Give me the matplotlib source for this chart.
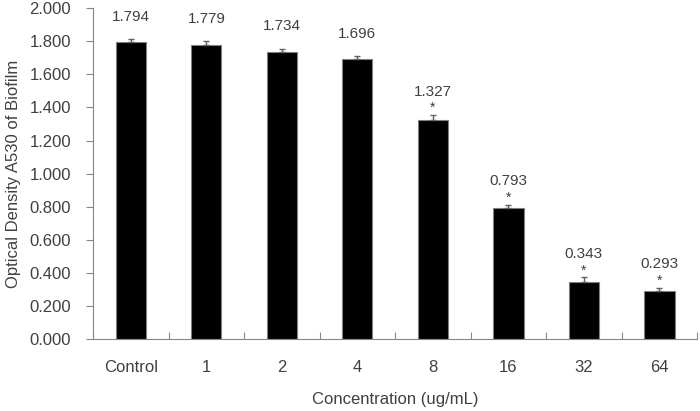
import numpy as np
import matplotlib.pyplot as plt

plt.rcParams['font.family'] = ['Liberation Sans', 'DejaVu Sans']

# data
categories = ["Control", "1", "2", "4", "8", "16", "32", "64"]
values = [1.794, 1.779, 1.734, 1.696, 1.327, 0.793, 0.343, 0.293]
errors = [0.020, 0.020, 0.022, 0.015, 0.026, 0.020, 0.030, 0.017]
signif = [False, False, False, False, True, True, True, True]

txt = "#404040"
spine = "#868686"

fig = plt.figure(figsize=(7, 4.11), dpi=100)
ax = fig.add_axes([0.133, 0.175, 0.863, 0.805])

x = np.arange(len(categories))
ax.bar(x, values, width=0.4, color="black", edgecolor="#808080", linewidth=0.8,
       yerr=[np.zeros(len(errors)), errors],
       error_kw=dict(ecolor="#606060", elinewidth=1, capsize=2.5, capthick=1))

for xi, v, e, s in zip(x, values, errors, signif):
    top = v + e
    if s:
        ax.annotate("*", (xi, top), xytext=(0, 0), textcoords="offset points",
                    ha="center", va="bottom", fontsize=10, color=txt)
        ax.annotate(f"{v:.3f}", (xi, top), xytext=(0, 12), textcoords="offset points",
                    ha="center", va="bottom", fontsize=11, color=txt)
    else:
        ax.annotate(f"{v:.3f}", (xi, top), xytext=(0, 11), textcoords="offset points",
                    ha="center", va="bottom", fontsize=11, color=txt)

ax.set_xlim(-0.5, len(categories) - 0.5)
ax.set_ylim(0, 2.0)
ax.set_yticks(np.arange(0, 2.01, 0.2))
ax.set_yticklabels([f"{t:.3f}" for t in np.arange(0, 2.01, 0.2)])

# Excel-style ticks between categories
ax.set_xticks(np.arange(-0.5, len(categories), 1.0))
ax.set_xticklabels([])
ax.set_xticks(x, minor=True)
ax.set_xticklabels(categories, minor=True)
ax.tick_params(axis="x", which="minor", length=0, pad=15, labelsize=12, labelcolor=txt)
ax.tick_params(axis="x", which="major", direction="in", length=5, color=spine)
ax.tick_params(axis="y", direction="out", length=5, color=spine, labelsize=12, labelcolor=txt, pad=11)

for side in ["top", "right"]:
    ax.spines[side].set_visible(False)
for side in ["left", "bottom"]:
    ax.spines[side].set_color(spine)

ax.set_xlabel("Concentration (ug/mL)", fontsize=12, color=txt, labelpad=12)
ax.set_ylabel("Optical Density A530 of Biofilm", fontsize=12, color=txt, labelpad=6)

fig.savefig("out.png", dpi=100)
